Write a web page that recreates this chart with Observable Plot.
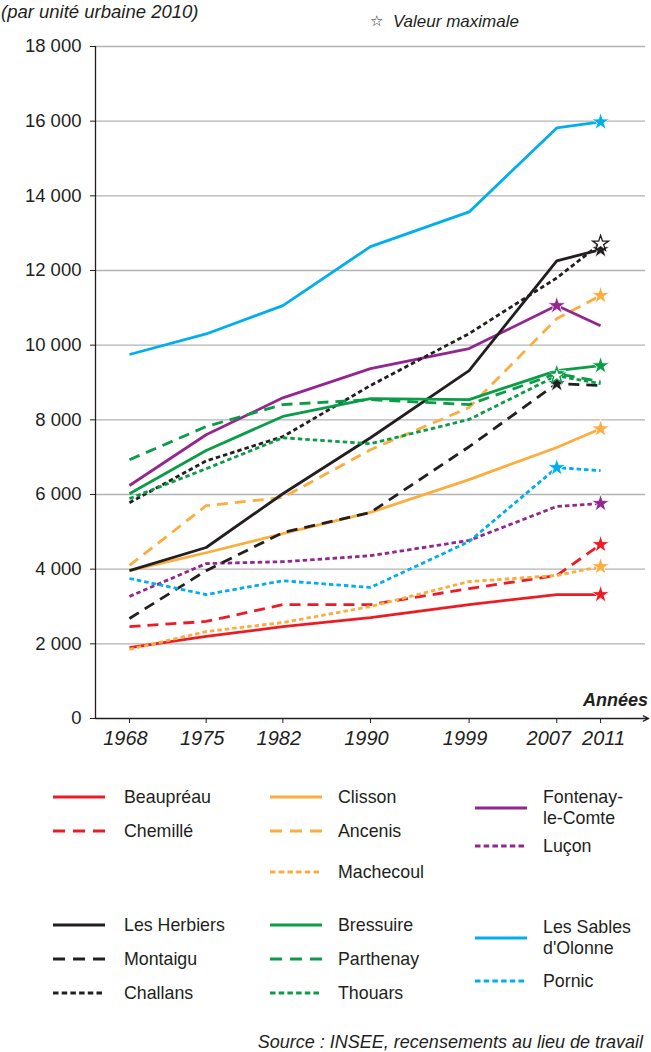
<!DOCTYPE html>
<html>
<head>
<meta charset="utf-8">
<script src="https://cdn.jsdelivr.net/npm/d3@7"></script>
<script src="https://cdn.jsdelivr.net/npm/@observablehq/plot@0.6"></script>
<style>
  html, body { margin: 0; padding: 0; background: #fff; }
  body { width: 651px; height: 1052px; position: relative; font-family: "Liberation Sans", Arial, sans-serif; color: #231f20; overflow: hidden; }
  .abs { position: absolute; white-space: nowrap; }
  #chart { position: absolute; left: 0; top: 0; }
</style>
</head>
<body>
<div id="chart"></div>
<div class="abs" style="left:1px; top:1px; font-size:18.5px; font-style:italic;">(par unité urbaine 2010)</div>
<div class="abs" style="left:370px; top:12px; font-size:17px;"><span style="font-family:'DejaVu Sans'; font-size:15px; position:relative; top:-1px;">☆</span>&nbsp; <i>Valeur maximale</i></div>
<div class="abs" style="right:3px; top:690px; font-size:18px; font-style:italic; font-weight:bold;">Années</div>
<svg id="legend" width="651" height="300" style="position:absolute; left:0; top:760px;"></svg>
<div class="abs" style="right:8px; top:1032px; font-size:18px; font-style:italic;">Source : INSEE, recensements au lieu de travail</div>
<script>
// ---- Data ----
const years = [1968, 1975, 1982, 1990, 1999, 2007, 2011];

const beaupreau   = [1900, 2200, 2460, 2700, 3050, 3320, 3320];
const chemille    = [2460, 2600, 3050, 3050, 3480, 3830, 4660];
const clisson     = [3960, 4440, 4950, 5520, 6400, 7260, 7760];
const ancenis     = [4100, 5700, 5920, 7200, 8330, 10710, 11330];
const machecoul   = [1850, 2330, 2570, 3000, 3670, 3830, 4070];
const fontenay    = [6240, 7600, 8590, 9370, 9910, 11060, 10520];
const lucon       = [3270, 4150, 4200, 4360, 4770, 5680, 5760];
const herbiers    = [3960, 4580, 6020, 7520, 9320, 12260, 12560];
const montaigu    = [2680, 3960, 4980, 5520, 7280, 8970, 8920];
const challans    = [5780, 6900, 7550, 8920, 10310, 11800, 12720];
const bressuire   = [6020, 7180, 8090, 8570, 8540, 9320, 9450];
const parthenay   = [6930, 7820, 8410, 8540, 8410, 9240, 9020];
const thouars     = [5890, 6690, 7520, 7360, 8010, 9180, 8970];
const sables      = [9750, 10300, 11060, 12640, 13570, 15820, 15980];
const pornic      = [3750, 3320, 3690, 3510, 4740, 6720, 6640];

const yTicks = [0, 2000, 4000, 6000, 8000, 10000, 12000, 14000, 16000, 18000];

// ---- Styles ----
const RED = "#ed1c24", ORANGE = "#fbad3f", PURPLE = "#92278f", BLACK = "#231f20", GREEN = "#0b9c48", BLUE = "#00aeef";
const DASH = "11,7", DOT = "4.5,3";

const series = [
  {name: "Beaupréau", values: beaupreau, color: RED, dash: null},
  {name: "Chemillé", values: chemille, color: RED, dash: DASH},
  {name: "Clisson", values: clisson, color: ORANGE, dash: null},
  {name: "Ancenis", values: ancenis, color: ORANGE, dash: DASH},
  {name: "Machecoul", values: machecoul, color: ORANGE, dash: DOT},
  {name: "Fontenay-\nle-Comte", values: fontenay, color: PURPLE, dash: null},
  {name: "Luçon", values: lucon, color: PURPLE, dash: DOT},
  {name: "Les Herbiers", values: herbiers, color: BLACK, dash: null},
  {name: "Montaigu", values: montaigu, color: BLACK, dash: DASH},
  {name: "Challans", values: challans, color: BLACK, dash: DOT, hollow: true},
  {name: "Bressuire", values: bressuire, color: GREEN, dash: null},
  {name: "Parthenay", values: parthenay, color: GREEN, dash: DASH},
  {name: "Thouars", values: thouars, color: GREEN, dash: DOT, hollow: true},
  {name: "Les Sables\nd'Olonne", values: sables, color: BLUE, dash: null},
  {name: "Pornic", values: pornic, color: BLUE, dash: DOT}
];

const X0 = 1964.9, X1 = 2015.1;
const yFmt = d => d === 0 ? "0" : d3.format(",")(d).replace(/,/g, " ");

const marks = [];
// grid
marks.push(Plot.ruleY(yTicks.filter(d => d > 0), {x1: X0, x2: X1, stroke: "#b3b3b3", strokeWidth: 1.3}));
// series lines
for (const s of series) {
  const data = years.map((y, i) => ({year: y, value: s.values[i]}));
  marks.push(Plot.line(data, {
    x: "year", y: "value", stroke: s.color, strokeWidth: 2.8,
    strokeDasharray: s.dash || undefined, strokeLinecap: "butt", strokeLinejoin: "miter"
  }));
}
// maximum stars
for (const s of series) {
  let mi = 0;
  s.values.forEach((v, i) => { if (v >= s.values[mi]) mi = i; });
  const d = [{year: years[mi], value: s.values[mi]}];
  marks.push(Plot.dot(d, {
    x: "year", y: "value", symbol: "star", r: s.hollow ? 5 : 5.6,
    fill: s.hollow ? "white" : s.color,
    stroke: s.hollow ? s.color : "white",
    strokeWidth: s.hollow ? 1.3 : 0.8
  }));
}
// axes
marks.push(Plot.ruleX([X0], {y1: 0, y2: 18000, stroke: BLACK, strokeWidth: 1.3}));
marks.push(Plot.arrow([0], {x1: X0, x2: X1 + 0.3, y1: 0, y2: 0, stroke: BLACK, strokeWidth: 1.3, headLength: 7, headAngle: 50, insetEnd: 0}));
marks.push(Plot.axisY({ticks: yTicks, tickSize: 5, tickPadding: 9, fontSize: 18.5, tickFormat: yFmt, label: null, stroke: BLACK}));
marks.push(Plot.axisX({ticks: years, tickSize: 5, tickFormat: () => "", label: null, stroke: BLACK}));
const xLabelCfg = {tickSize: 0, tickPadding: 12, fontSize: 20, fontStyle: "italic", tickFormat: d => String(d), label: null};
marks.push(Plot.axisX({...xLabelCfg, ticks: years.filter(y => y < 2007), dx: -4}));
marks.push(Plot.axisX({...xLabelCfg, ticks: [2007], dx: -8}));
marks.push(Plot.axisX({...xLabelCfg, ticks: [2011], dx: 3}));

const chart = Plot.plot({
  width: 651, height: 760,
  marginLeft: 95, marginRight: 6, marginTop: 46, marginBottom: 42,
  x: {domain: [X0, X1]},
  y: {domain: [0, 18000]},
  style: {fontFamily: "'Liberation Sans', Arial, sans-serif", color: BLACK, background: "white", overflow: "visible"},
  marks
});
document.getElementById("chart").appendChild(chart);

// ---- Legend ----
const legendLayout = [
  // [series index, lineX, textX, lineY(relative)]
  [0, 53, 124, 37], [1, 53, 124, 71],
  [2, 270, 338, 37], [3, 270, 338, 71], [4, 270, 338, 112],
  [5, 475, 543, 48], [6, 475, 543, 86],
  [7, 53, 124, 165], [8, 53, 124, 199], [9, 53, 124, 233],
  [10, 270, 338, 165], [11, 270, 338, 199], [12, 270, 338, 233],
  [13, 475, 543, 178], [14, 475, 543, 221]
];
const lg = d3.select("#legend");
for (const [si, lx, tx, ly] of legendLayout) {
  const s = series[si];
  lg.append("line").attr("x1", lx).attr("x2", lx + 52).attr("y1", ly).attr("y2", ly)
    .attr("stroke", s.color).attr("stroke-width", 2.8)
    .attr("stroke-dasharray", s.dash === DASH ? "12,8" : s.dash === DOT ? "5.5,3.2" : null);
  const lines = s.name.split("\n");
  const t = lg.append("text").attr("x", tx).attr("font-size", 17.8).attr("fill", BLACK)
    .attr("font-family", "'Liberation Sans', Arial, sans-serif");
  if (lines.length === 1) {
    t.attr("y", ly + 6).text(lines[0]);
  } else {
    t.append("tspan").attr("x", tx).attr("y", ly - 5).text(lines[0]);
    t.append("tspan").attr("x", tx).attr("y", ly + 16).text(lines[1]);
  }
}
</script>
</body>
</html>
